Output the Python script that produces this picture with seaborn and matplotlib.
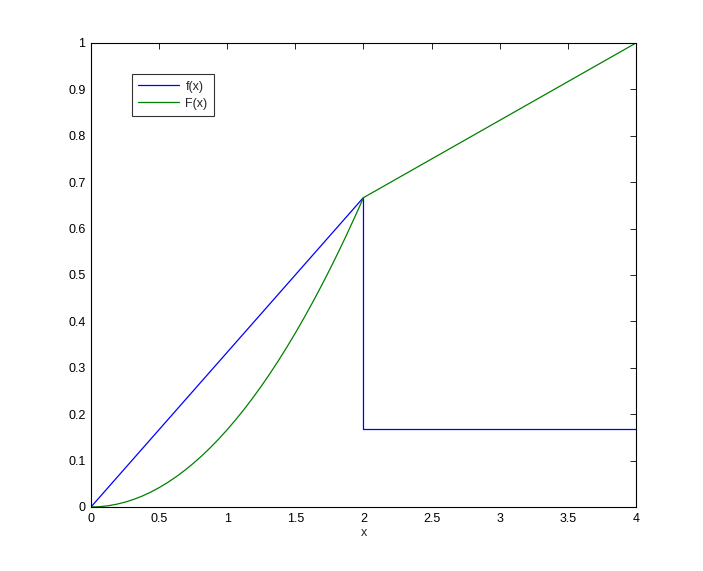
import matplotlib
matplotlib.use("Agg")
import matplotlib.pyplot as plt
import seaborn as sns
import pandas as pd

# f(x): piecewise density
f_x = [0.0, 2.0, 2.0, 4.0]
f_y = [0.0, 0.667, 0.167, 0.167]

# F(x): cumulative curve
F_x = [0.0, 0.0625, 0.125, 0.1875, 0.25, 0.3125, 0.375, 0.4375, 0.5, 0.5625,
       0.625, 0.6875, 0.75, 0.8125, 0.875, 0.9375, 1.0, 1.0625, 1.125, 1.1875,
       1.25, 1.3125, 1.375, 1.4375, 1.5, 1.5625, 1.625, 1.6875, 1.75, 1.8125,
       1.875, 1.9375, 2.0, 4.0]
F_y = [0.0, 0.0007, 0.0026, 0.0059, 0.0104, 0.0163, 0.0234, 0.0319, 0.0417,
       0.0527, 0.0651, 0.0788, 0.0938, 0.11, 0.1276, 0.1465, 0.1667, 0.1882,
       0.2109, 0.235, 0.2604, 0.2871, 0.3151, 0.3444, 0.375, 0.4069, 0.4401,
       0.4746, 0.5104, 0.5475, 0.5859, 0.6257, 0.6667, 1.0]

x_ticks = [0, 0.5, 1, 1.5, 2, 2.5, 3, 3.5, 4]
y_ticks = [0, 0.1, 0.2, 0.3, 0.4, 0.5, 0.6, 0.7, 0.8, 0.9, 1]
x_tick_labels = ["0", "0.5", "1", "1.5", "2", "2.5", "3", "3.5", "4"]
y_tick_labels = ["0", "0.1", "0.2", "0.3", "0.4", "0.5", "0.6", "0.7", "0.8", "0.9", "1"]

sns.set_style("white")
plt.rcParams['font.family'] = ['Liberation Sans', 'DejaVu Sans']

fig = plt.figure(figsize=(7.03, 5.71), dpi=100)
ax = fig.add_axes([0.1294, 0.1121, 0.7753, 0.8126])

df_f = pd.DataFrame({"x": f_x, "y": f_y})
df_F = pd.DataFrame({"x": F_x, "y": F_y})
sns.lineplot(data=df_f, x="x", y="y", sort=False, estimator=None, color=(0, 0, 1),
             linewidth=0.9, ax=ax, label="f(x)")
sns.lineplot(data=df_F, x="x", y="y", sort=False, estimator=None, color=(0, 0.5, 0),
             linewidth=0.9, ax=ax, label="F(x)")

ax.set_xlim(0, 4)
ax.set_ylim(0, 1)
ax.set_xticks(x_ticks)
ax.set_xticklabels(x_tick_labels)
ax.set_yticks(y_ticks)
ax.set_yticklabels(y_tick_labels)
ax.set_xlabel("x", fontsize=9, labelpad=2)
ax.set_ylabel("")
ax.tick_params(direction="in", length=4, width=0.6, labelsize=9, colors="black",
               top=True, right=True, pad=4)
for s in ax.spines.values():
    s.set_visible(True)
    s.set_color("black")
    s.set_linewidth(0.8)

leg = ax.legend(loc="upper left", bbox_to_anchor=(0.063, 0.946), fontsize=9,
                frameon=True, fancybox=False, handlelength=3.3, borderpad=0.5,
                labelspacing=0.4, handletextpad=0.5)
leg.get_frame().set_edgecolor("black")
leg.get_frame().set_linewidth(0.8)

fig.savefig("out.png", dpi=100, facecolor="white")
